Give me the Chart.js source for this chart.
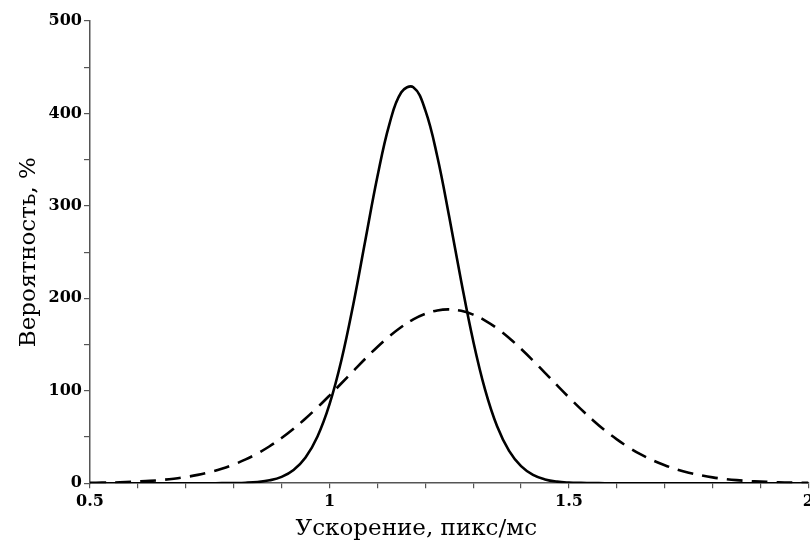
<!DOCTYPE html>
<html>
<head>
<meta charset="utf-8">
<script src="https://cdn.jsdelivr.net/npm/chart.js@4.4.0/dist/chart.umd.min.js"></script>
<style>
  html, body { margin: 0; padding: 0; background: #ffffff; overflow: hidden; }
  #wrap { width: 818px; height: 543px; }
</style>
</head>
<body>
<div id="wrap"><canvas id="grafico"></canvas></div>
<script>
// значения по оси X (ускорение, пикс/мс)
const uskorenie = [
  0.5, 0.525, 0.55, 0.575, 0.6, 0.625, 0.65, 0.675, 0.7, 0.725,
  0.75, 0.775, 0.8, 0.825, 0.85, 0.875, 0.9, 0.925, 0.95, 0.975,
  1.0, 1.025, 1.05, 1.075, 1.1, 1.125, 1.15, 1.175, 1.2, 1.225,
  1.25, 1.275, 1.3, 1.325, 1.35, 1.375, 1.4, 1.425, 1.45, 1.475,
  1.5, 1.525, 1.55, 1.575, 1.6, 1.625, 1.65, 1.675, 1.7, 1.725,
  1.75, 1.775, 1.8, 1.825, 1.85, 1.875, 1.9, 1.925, 1.95, 1.975, 2.0
];

// сплошная кривая (узкий пик)
const sploshnaya = [
  0, 0, 0, 0, 0, 0, 0, 0, 0, 0,
  0, 0.05, 0.2, 0.5, 1.3, 3.1, 6.9, 14.4, 27.9, 50.6,
  85.2, 133.3, 194.2, 263.1, 331.4, 388.2, 422.9, 428.4, 403.6, 353.7,
  288.2, 218.5, 154.0, 100.9, 61.5, 34.9, 18.4, 9.0, 4.1, 1.7,
  0.7, 0.3, 0.1, 0, 0, 0, 0, 0, 0, 0,
  0, 0, 0, 0, 0, 0, 0, 0, 0, 0, 0
];

// пунктирная кривая (широкий пик)
const punktir = [
  0.4, 0.6, 0.8, 1.2, 1.8, 2.5, 3.5, 4.9, 6.7, 9.0,
  11.9, 15.6, 20.2, 25.7, 32.3, 40.0, 48.9, 58.9, 70.0, 82.0,
  94.8, 108.1, 121.5, 134.8, 147.4, 158.9, 169.0, 177.2, 183.2, 186.9,
  188.0, 186.5, 182.4, 176.0, 167.5, 157.1, 145.4, 132.7, 119.4, 106.0,
  92.8, 80.1, 68.2, 57.2, 47.4, 38.7, 31.1, 24.7, 19.4, 15.0,
  11.4, 8.6, 6.3, 4.6, 3.3, 2.4, 1.7, 1.2, 0.8, 0.5, 0.4
];

const xMetki = [0.5, 1, 1.5, 2];
const yMetki = [0, 100, 200, 300, 400, 500];

function toPoints(ys) {
  return uskorenie.map((x, i) => ({ x: x, y: ys[i] }));
}

function estMetka(v, spisok) {
  return spisok.some(m => Math.abs(m - v) < 1e-6);
}

const shrift = 'DejaVu Serif';
const osColor = '#555555';

window.onload = function() {
  const ctx = document.getElementById('grafico').getContext('2d');
  new Chart(ctx, {
    type: 'line',
    data: {
      datasets: [
        {
          label: 'solid',
          data: toPoints(sploshnaya),
          borderColor: '#000000',
          borderWidth: 2.6,
          pointRadius: 0,
          tension: 0.4,
          fill: false
        },
        {
          label: 'dashed',
          data: toPoints(punktir),
          borderColor: '#000000',
          borderWidth: 2.6,
          borderDash: [16, 9],
          pointRadius: 0,
          tension: 0.4,
          fill: false
        }
      ]
    },
    options: {
      responsive: true,
      maintainAspectRatio: false,
      animation: false,
      layout: { padding: { left: 15, top: 21, right: 0, bottom: 0 } },
      plugins: {
        legend: { display: false },
        tooltip: { enabled: false }
      },
      scales: {
        x: {
          type: 'linear',
          min: 0.5,
          max: 2,
          border: { color: osColor, width: 1.5 },
          grid: { drawOnChartArea: false, drawTicks: true, tickLength: 5, color: osColor, lineWidth: 1.2 },
          ticks: {
            stepSize: 0.1,
            autoSkip: false,
            maxRotation: 0,
            padding: 4,
            color: '#000000',
            font: { family: shrift, size: 16, weight: 'bold' },
            callback: function(v) { return estMetka(v, xMetki) ? String(Math.round(v * 10) / 10) : ''; }
          },
          title: {
            display: true,
            // хвостовые пробелы сдвигают подпись левее, как на оригинале
            text: 'Ускорение, пикс/мс\u00a0\u00a0\u00a0\u00a0\u00a0\u00a0\u00a0\u00a0\u00a0',
            color: '#000000',
            font: { family: shrift, size: 23 },
            padding: { top: 0, bottom: 0 }
          }
        },
        y: {
          min: 0,
          max: 500,
          border: { color: osColor, width: 1.5 },
          grid: { drawOnChartArea: false, drawTicks: true, tickLength: 6, color: osColor, lineWidth: 1.2 },
          ticks: {
            stepSize: 50,
            autoSkip: false,
            padding: 2,
            color: '#000000',
            font: { family: shrift, size: 16, weight: 'bold' },
            callback: function(v) { return estMetka(v, yMetki) ? String(v) : ''; }
          },
          title: {
            display: true,
            text: 'Вероятность, %',
            color: '#000000',
            font: { family: shrift, size: 23 },
            padding: { top: 0, bottom: 4 }
          }
        }
      }
    }
  });
};
</script>
</body>
</html>
